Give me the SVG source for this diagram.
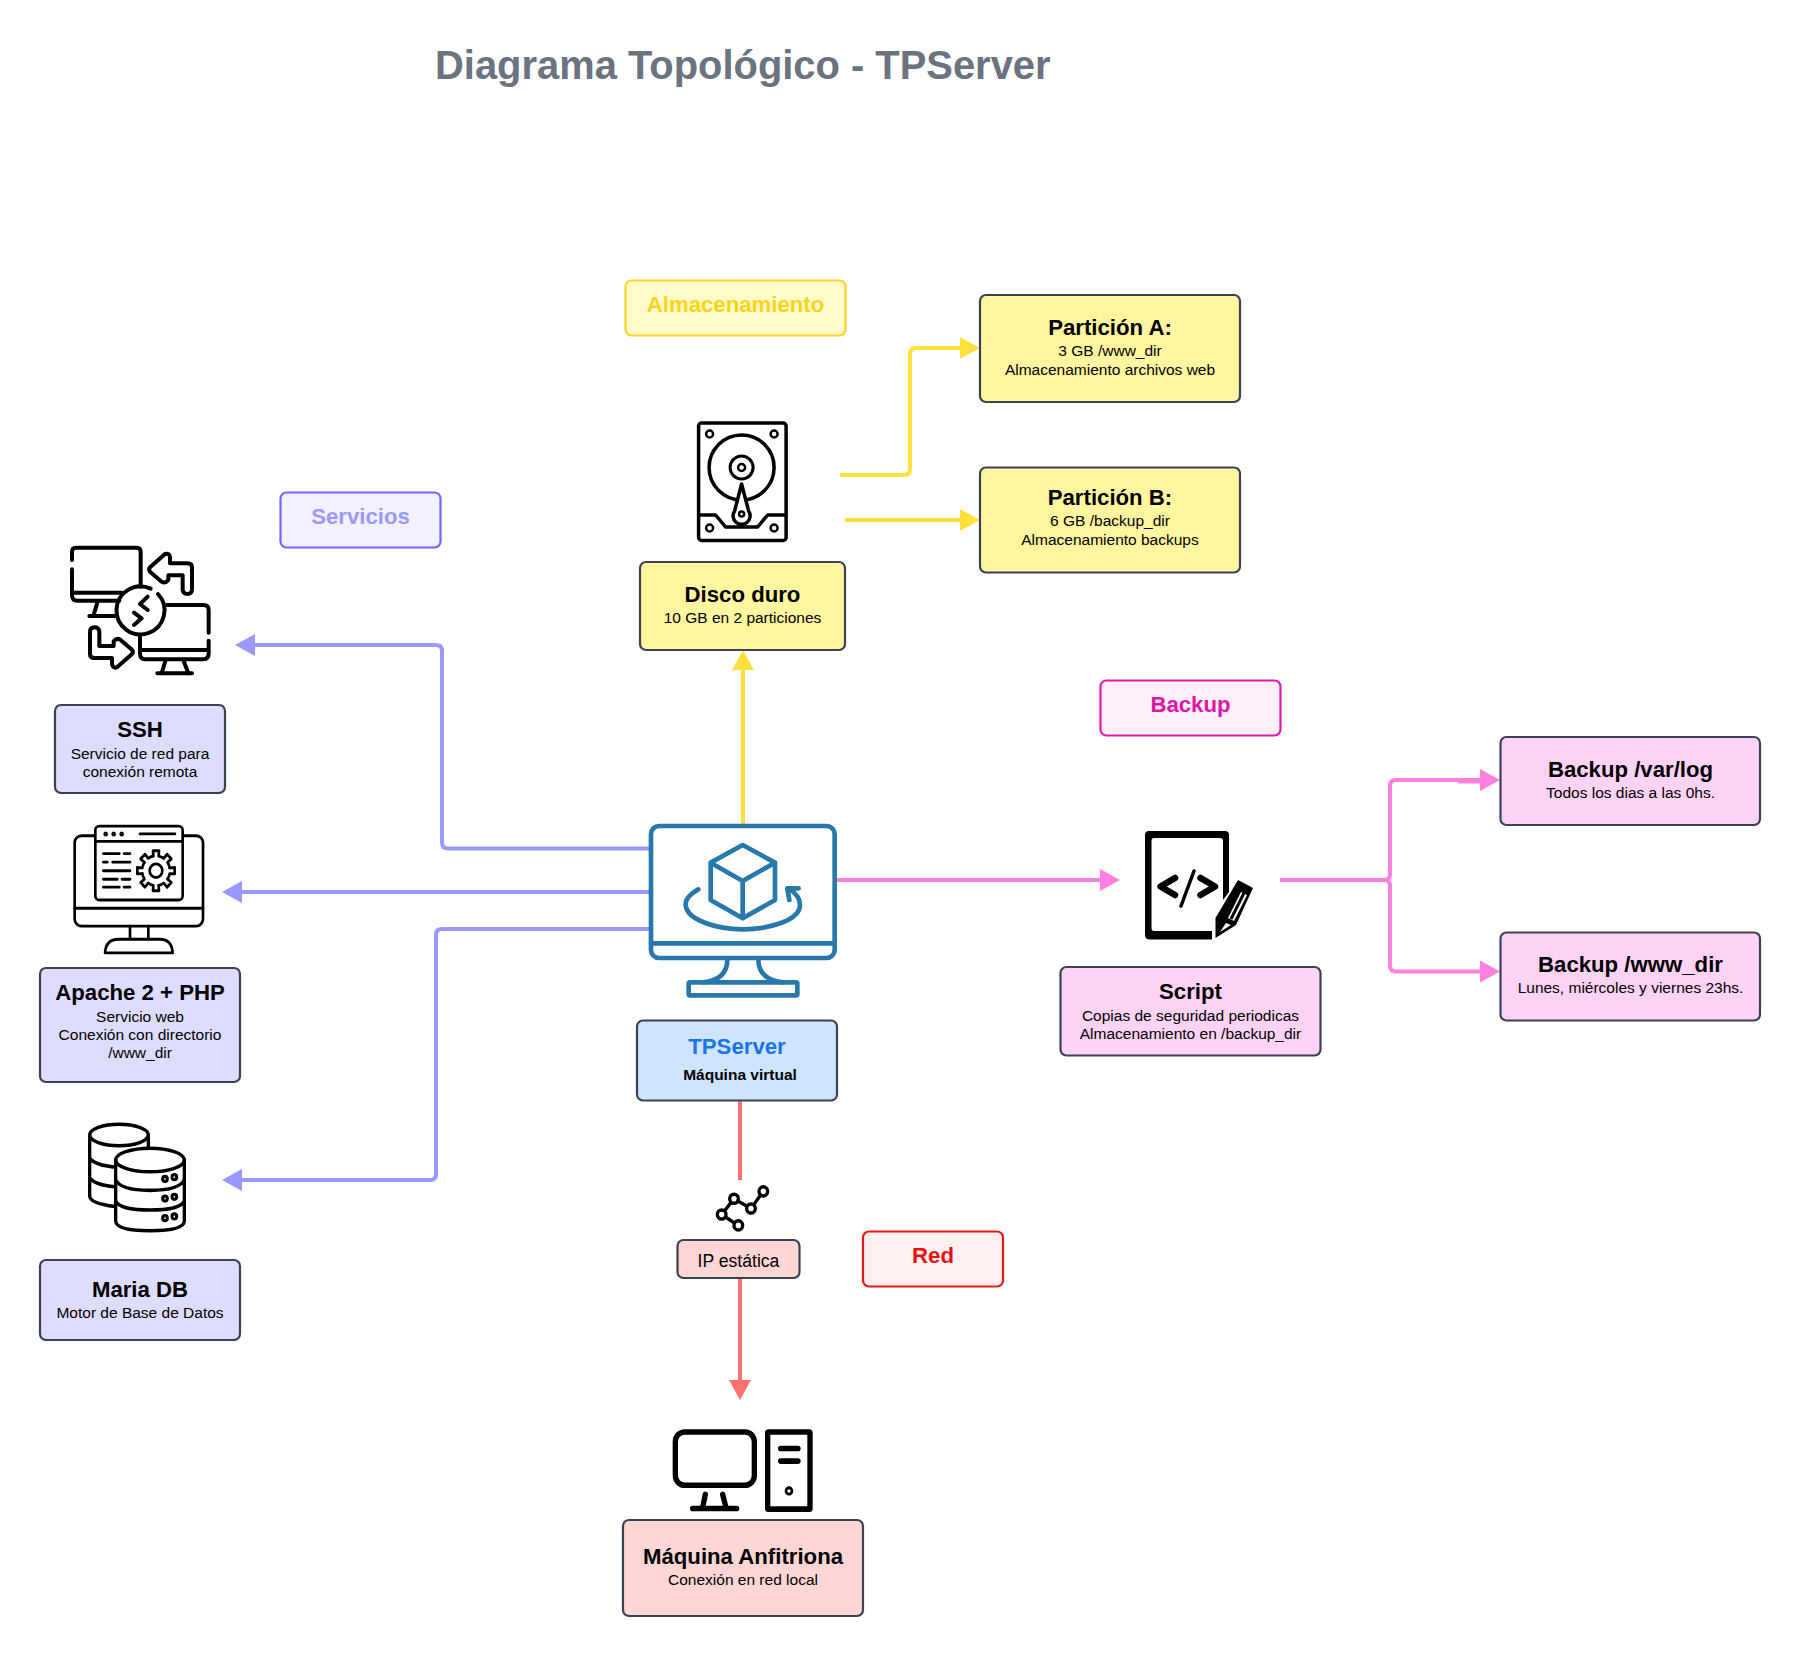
<svg xmlns="http://www.w3.org/2000/svg" width="1800" height="1656" viewBox="0 0 1800 1656">
<style>
text{font-family:"Liberation Sans",Arial,sans-serif;text-anchor:middle;fill:#000}
.h{font-size:22.200px;font-weight:700}
.s{font-size:15.500px}
.l{font-size:22.200px;font-weight:700}
.title{font-size:39.900px;font-weight:700;fill:#6b7280}
.n{stroke:#3a4252;stroke-width:2.2}
.lab{stroke-width:2.2}
.c{fill:none;stroke-width:4;stroke-linejoin:round}
.i{fill:none;stroke:#000;stroke-linecap:round;stroke-linejoin:round}
</style>
<defs>
<marker id="ab" markerUnits="userSpaceOnUse" markerWidth="22" markerHeight="24" refX="0" refY="12" orient="auto"><path d="M0 1L20 12L0 23Z" fill="#9999ff"/></marker>
<marker id="ay" markerUnits="userSpaceOnUse" markerWidth="22" markerHeight="24" refX="0" refY="12" orient="auto"><path d="M0 1L20 12L0 23Z" fill="#ffe03d"/></marker>
<marker id="ap" markerUnits="userSpaceOnUse" markerWidth="22" markerHeight="24" refX="0" refY="12" orient="auto"><path d="M0 1L20 12L0 23Z" fill="#ff80df"/></marker>
<marker id="ar" markerUnits="userSpaceOnUse" markerWidth="22" markerHeight="24" refX="0" refY="12" orient="auto"><path d="M0 1L20 12L0 23Z" fill="#ff7070"/></marker>
<path id="tooth" d="M-8 -41L-9 -56H9L8 -41A42 42 0 0 1 23.5 -34.8"/>
</defs>
<text id="title" class="title" x="742.800" y="79">Diagrama Topológico - TPServer</text>

<g id="connectors">
<path class="c" stroke="#9999ff" marker-end="url(#ab)" d="M650 848.500H448Q442 848.500 442 842.500V651Q442 645 436 645H255"/>
<path class="c" stroke="#9999ff" marker-end="url(#ab)" d="M650 892H242"/>
<path class="c" stroke="#9999ff" marker-end="url(#ab)" d="M650 929H442Q436 929 436 935V1174Q436 1180 430 1180H242"/>
<path class="c" stroke="#ffe03d" marker-end="url(#ay)" d="M743 824V670"/>
<path class="c" stroke="#ffe03d" marker-end="url(#ay)" d="M840 475H904Q910 475 910 469V354Q910 348 916 348H960"/>
<path class="c" stroke="#ffe03d" marker-end="url(#ay)" d="M845 520H960"/>
<path class="c" stroke="#ff80df" marker-end="url(#ap)" d="M837 880H1100"/>
<path class="c" stroke="#ff80df" marker-end="url(#ap)" d="M1280 880H1384Q1390 880 1390 874V786Q1390 780 1396 780H1480"/>
<path class="c" stroke="#ff80df" d="M1458 781.500H1482"/>
<path class="c" stroke="#ff80df" marker-end="url(#ap)" d="M1280 880H1384Q1390 880 1390 886V965.500Q1390 971.500 1396 971.500H1480"/>
<path class="c" stroke="#ff7070" d="M740 1101V1180"/>
<path class="c" stroke="#ff7070" marker-end="url(#ar)" d="M740 1278V1380"/>
</g>

<g id="label-servicios"><rect class="lab" x="280.500" y="492.500" width="160" height="55" rx="6" fill="#f2f2ff" stroke="#6a6aff"/><text class="l" x="360.500" y="524" style="fill:#9999ff">Servicios</text></g>
<g id="label-almacenamiento"><rect class="lab" x="625.500" y="280.500" width="220" height="55" rx="6" fill="#fdfbc9" stroke="#ffd324"/><text class="l" x="735.500" y="312" style="fill:#ffd21a">Almacenamiento</text></g>
<g id="label-backup"><rect class="lab" x="1100.500" y="680.500" width="180" height="55" rx="6" fill="#fff0fb" stroke="#e41ab0"/><text class="l" x="1190.500" y="712" style="fill:#dd16a8">Backup</text></g>
<g id="label-red"><rect class="lab" x="863" y="1231.500" width="140" height="55" rx="6" fill="#fff0f0" stroke="#e81818"/><text class="l" x="933" y="1263" style="fill:#e51414">Red</text></g>

<g id="ssh">
<g class="i" stroke-width="12" transform="translate(0,480) scale(.33333)">
<path d="M216 240V215Q216 203 228 203H410Q422 203 422 215V320M216 268V345Q216 362 232 362H358M220 338H365M292 368L280 408M268 408H345"/>
<path d="M452 326A72 72 0 1 0 474 342"/>
<path d="M443 350L420 372L443 390M402 398L425 415L402 435"/>
<path d="M500 375H610Q626 375 626 390V458M626 482V520Q626 538 610 538H435Q420 538 420 520V470M425 510H626M497 540L485 580M550 540L565 580M472 580H576"/>
<path id="sshArrow" d="M548 330Q550 342 562 342Q576 342 576 328V262Q576 250 562 250H510V232Q508 218 495 222L450 262Q445 268 450 275L485 305Q495 312 505 300V286H548Z"/>
<path d="M298 454Q296 442 284 442Q270 442 270 456V522Q270 534 284 534H336V552Q338 566 351 562L396 522Q401 516 396 509L361 479Q351 472 341 484V498H298Z"/>
</g>
<rect class="n" x="55" y="705" width="170" height="88" rx="6" fill="#ddddff"/>
<text class="h" x="140" y="737">SSH</text><text class="s" x="140" y="758.500">Servicio de red para</text><text class="s" x="140" y="776.900">conexión remota</text>
</g>

<g id="apache">
<g class="i" stroke-width="8" transform="translate(0,810) scale(.33333,.35714)">
<rect x="224" y="72" width="385" height="253" rx="20"/>
<path d="M224 275H609M390 325V360M445 325V360M315 400Q318 362 355 362H480Q515 362 518 400Z"/>
<rect x="286" y="45" width="262" height="207" rx="12" fill="#fff"/>
<path d="M286 88H548M420 67H525M310 122H358M372 122H390M310 146H322M338 146H390M310 170H390M310 194H352M366 194H390M310 216H358M372 216H390"/>
<circle cx="317" cy="67" r="3"/><circle cx="341" cy="67" r="3"/><circle cx="365" cy="67" r="3"/>
<circle cx="468" cy="170" r="19"/>
<g transform="translate(468,170)"><use href="#tooth"/><use href="#tooth" transform="rotate(45)"/><use href="#tooth" transform="rotate(90)"/><use href="#tooth" transform="rotate(135)"/><use href="#tooth" transform="rotate(180)"/><use href="#tooth" transform="rotate(225)"/><use href="#tooth" transform="rotate(270)"/><use href="#tooth" transform="rotate(315)"/></g>
</g>
<rect class="n" x="40" y="968" width="200" height="114" rx="6" fill="#ddddff"/>
<text class="h" x="140" y="1000">Apache 2 + PHP</text><text class="s" x="140" y="1021.500">Servicio web</text><text class="s" x="140" y="1039.900">Conexión con directorio</text><text class="s" x="140" y="1058.300">/www_dir</text>
</g>

<g id="mariadb">
<g class="i" stroke-width="10" transform="translate(0,810) scale(.33333,.35714)">
<ellipse cx="357" cy="910" rx="88" ry="30"/>
<path d="M269 910V1080Q269 1102 345 1110M269 975Q285 995 345 1000M269 1030Q285 1050 345 1055M445 910V945"/>
<ellipse cx="450" cy="980" rx="103" ry="33" fill="#fff"/>
<path d="M347 980V1150Q347 1178 450 1178Q553 1178 553 1150V980M347 1035Q360 1065 450 1065Q540 1065 553 1035M347 1095Q360 1120 450 1120Q540 1120 553 1095"/>
<g stroke-width="9"><circle cx="495" cy="1033" r="7"/><circle cx="523" cy="1028" r="7"/><circle cx="495" cy="1088" r="7"/><circle cx="523" cy="1083" r="7"/><circle cx="495" cy="1143" r="7"/><circle cx="523" cy="1138" r="7"/></g>
</g>
<rect class="n" x="40" y="1260" width="200" height="80" rx="6" fill="#ddddff"/>
<text class="h" x="140" y="1296.500">Maria DB</text><text class="s" x="140" y="1318">Motor de Base de Datos</text>
</g>

<g id="disco">
<g class="i" stroke-width="3.500" transform="translate(-.4,0)">
<rect x="699" y="423" width="87.500" height="117.500" rx="3"/>
<circle cx="742" cy="467.500" r="32.500"/>
<circle cx="742" cy="467.500" r="11.500" stroke-width="3"/><circle cx="742" cy="467.500" r="3.500" stroke-width="2.500"/>
<path d="M699 515H716L726 527H758L768 515H786"/>
<path d="M742 484L735 511A8.500 8.500 0 1 0 749 511Z" fill="#fff"/>
<g stroke-width="2.500"><circle cx="710" cy="434" r="3.500"/><circle cx="774.500" cy="434" r="3.500"/><circle cx="710" cy="528" r="3.500"/><circle cx="774.500" cy="528" r="3.500"/><circle cx="742" cy="514" r="2.500"/></g>
</g>
<rect class="n" x="640" y="562" width="205" height="88" rx="6" fill="#fff69f"/>
<text class="h" x="742.500" y="602">Disco duro</text><text class="s" x="742.500" y="623">10 GB en 2 particiones</text>
</g>

<g id="particion-a"><rect class="n" x="980" y="295" width="260" height="107" rx="6" fill="#fff69f"/>
<text class="h" x="1110" y="335">Partición A:</text><text class="s" x="1110" y="356">3 GB /www_dir</text><text class="s" x="1110" y="374.800">Almacenamiento archivos web</text></g>
<g id="particion-b"><rect class="n" x="980" y="467.500" width="260" height="105" rx="6" fill="#fff69f"/>
<text class="h" x="1110" y="505">Partición B:</text><text class="s" x="1110" y="526">6 GB /backup_dir</text><text class="s" x="1110" y="544.800">Almacenamiento backups</text></g>

<g id="tpserver">
<g class="i" stroke-width="14" transform="translate(620,800) scale(.33333)" style="stroke:#2878ab">
<rect x="93" y="78" width="551" height="396" rx="24"/>
<path d="M93 430H644M322 478Q322 540 250 547M415 478Q415 540 490 547"/>
<rect x="206" y="547" width="326" height="39" rx="4"/>
<path d="M368 135L465 188V300L368 355L272 300V188ZM272 188L368 243L465 188M368 243V355"/>
<path d="M235 268Q195 290 197 315C200 360 290 388 368 388C450 388 540 360 540 315C540 295 525 278 510 268M536 265H502L508 300"/>
</g>
<rect class="n" x="637" y="1020.500" width="200" height="80" rx="6" fill="#cfe4ff"/>
<text class="l" x="737" y="1054" style="fill:#1a73e8">TPServer</text><text class="s" x="740" y="1080" style="font-weight:700">Máquina virtual</text>
</g>

<g id="script">
<path fill="#000" d="M1149 831H1225Q1229 831 1229 835V892L1223 900V841Q1223 838 1220 838H1154Q1151.500 838 1151.500 841V928Q1151.500 931 1154 931H1212V939.500H1150Q1145 939.500 1145 935V835Q1145 831 1149 831Z"/>
<path class="i" stroke-width="6.500" d="M1175 878L1160.500 886.500L1175 895M1200.500 878L1215 886.500L1200.500 895"/>
<path class="i" stroke-width="3.500" d="M1194 871L1181 906"/>
<path fill="#000" d="M1238 880L1253 888L1236 925L1215.500 938V918Z"/>
<path fill="#fff" d="M1241 892L1247 895L1234 921L1228 918ZM1226 923L1231 925L1220 932Z"/>
<path stroke="#000" stroke-width="3" d="M1244 893L1231 919"/>
<rect class="n" x="1060.500" y="967" width="260" height="88.500" rx="6" fill="#ffd3f5"/>
<text class="h" x="1190.500" y="999">Script</text><text class="s" x="1190.500" y="1020.500">Copias de seguridad periodicas</text><text class="s" x="1190.500" y="1038.900">Almacenamiento en /backup_dir</text>
</g>
<g id="backup-log"><rect class="n" x="1500.500" y="737" width="259.500" height="88" rx="6" fill="#ffd3f5"/>
<text class="h" x="1630.500" y="777">Backup /var/log</text><text class="s" x="1630.500" y="798">Todos los dias a las 0hs.</text></g>
<g id="backup-www"><rect class="n" x="1500.500" y="932.500" width="259.500" height="88" rx="6" fill="#ffd3f5"/>
<text class="h" x="1630.500" y="972">Backup /www_dir</text><text class="s" x="1630.500" y="993">Lunes, miércoles y viernes 23hs.</text></g>

<g id="ip">
<g class="i" stroke-width="10" transform="translate(600,1090) scale(.33333,.35075)">
<path d="M490 289L453 338L402 310L365 355L415 386"/>
<g style="fill:#fff"><circle cx="490" cy="289" r="13"/><circle cx="453" cy="338" r="13"/><circle cx="402" cy="310" r="13"/><circle cx="365" cy="355" r="13"/><circle cx="415" cy="386" r="13"/></g>
</g>
<rect class="n" x="677.500" y="1240" width="122" height="38" rx="6" fill="#ffd6d6"/>
<text x="738.500" y="1266.500" style="font-size:17.600px">IP estática</text>
</g>

<g id="anfitriona">
<g class="i" stroke-width="16" transform="translate(600,1090) scale(.33333,.35075)">
<rect x="226" y="975" width="237" height="152" rx="28"/>
<path d="M316 1153L308 1190M368 1153L378 1190M278 1193H410M542 1022H594M542 1058H594"/>
<rect x="503" y="975" width="127" height="220" rx="2"/>
<circle cx="567" cy="1143" r="9" stroke-width="8"/>
</g>
<rect class="n" x="623" y="1520" width="240" height="96" rx="6" fill="#ffd6d6"/>
<text class="h" x="743" y="1563.500">Máquina Anfitriona</text><text class="s" x="743" y="1584.500">Conexión en red local</text>
</g>
</svg>
